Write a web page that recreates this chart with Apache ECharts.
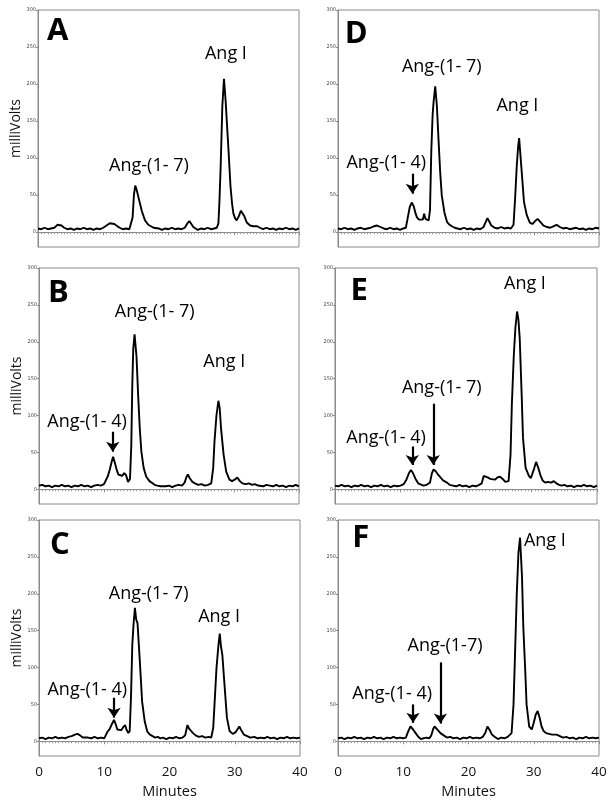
<!DOCTYPE html>
<html>
<head>
<meta charset="utf-8">
<script src="https://cdn.jsdelivr.net/npm/echarts@6/dist/echarts.min.js"></script>
<style>
html,body{margin:0;padding:0;background:#fff;}
#chart{width:612px;height:806px;}
</style>
</head>
<body>
<div id="chart"></div>
<script>
// ---------- data (minutes, milliVolts) ----------
const xTicks = [0, 10, 20, 30, 40];
const yTicks = [0, 50, 100, 150, 200, 250, 300];

const traceA = [[0,5],[0.5,4],[1,6],[1.5,4],[2,5],[2.5,6],[3,10],[3.3,12],[3.6,9],[4,6],[4.5,4],[5,5],[5.5,3],[6,5],[6.5,4],[7,6],[7.5,4],[8,5],[8.5,3],[9,5],[9.5,4],[10,6],[10.5,9],[11,12],[11.3,13],[11.7,11],[12,9],[12.5,6],[13,4],[13.5,5],[14,4],[14.3,6],[14.5,20],[14.7,50],[14.9,63],[15.1,58],[15.4,47],[15.7,36],[15.9,29],[16.2,21],[16.4,16],[16.9,10],[17.2,8],[17.7,6],[18,4],[18.5,5],[19,3],[19.5,5],[20,4],[20.5,6],[21,4],[21.5,5],[22,4],[22.5,6],[22.9,12],[23.2,15],[23.5,11],[23.8,7],[24,5],[24.5,3],[25,5],[25.5,4],[26,6],[26.5,4],[27,5],[27.4,6],[27.65,12],[27.8,40],[28,90],[28.25,170],[28.5,207],[28.75,178],[29,140],[29.2,110],[29.5,62],[29.75,38],[29.95,25],[30.2,19],[30.45,16],[30.8,22],[31.1,29],[31.3,31],[31.6,22],[32,13],[32.5,9],[33,8],[33.3,10],[33.6,8],[34,6],[34.5,4],[35,6],[35.5,4],[36,5],[36.5,3],[37,5],[37.5,4],[38,6],[38.5,4],[39,5],[39.5,3],[40,5]];

const traceB = [[0,5],[0.5,6],[1,4],[1.5,5],[2,3],[2.5,5],[3,4],[3.5,6],[4,4],[4.5,5],[5,3],[5.5,5],[6,4],[6.5,6],[7,4],[7.5,5],[8,3],[8.5,5],[9,6],[9.5,5],[10,7],[10.3,8],[10.6,18],[10.9,27],[11.2,38],[11.4,44],[11.6,38],[11.9,28],[12.2,20],[12.5,21],[12.8,18],[13.1,22],[13.4,19],[13.7,10],[14.0,14],[14.2,60],[14.35,140],[14.5,190],[14.7,210],[14.85,195],[15.0,180],[15.25,128],[15.5,83],[15.75,51],[16.1,29],[16.5,17],[17.0,11],[17.3,9],[17.8,6],[18.2,5],[18.7,4],[19,6],[19.5,4],[20,5],[20.5,3],[21,5],[21.5,6],[22,5],[22.4,9],[22.7,17],[22.9,20],[23.2,15],[23.6,10],[24,8],[24.5,6],[25,7],[25.5,5],[26,6],[26.5,8],[26.8,29],[27.0,65],[27.3,100],[27.6,120],[27.8,110],[28.0,83],[28.4,47],[28.8,24],[29.3,13],[29.7,11],[30.1,13],[30.5,16],[30.9,11],[31.3,8],[31.8,7],[32.3,8],[32.8,6],[33.2,7],[33.7,5],[34,6],[34.5,4],[35,6],[35.5,5],[36,4],[36.5,6],[37,4],[37.5,5],[38,3],[38.5,5],[39,4],[39.5,6],[40,4]];

const traceC = [[0,4],[0.5,5],[1,3],[1.5,5],[2,4],[2.5,6],[3,4],[3.5,5],[4,4],[4.5,6],[5,7],[5.5,9],[5.9,10],[6.3,8],[6.7,5],[7,3],[7.5,5],[8,4],[8.5,6],[9,4],[9.5,5],[10,4],[10.3,6],[10.5,13],[10.8,16],[11.1,22],[11.5,29],[11.8,22],[12.0,16],[12.3,17],[12.6,15],[12.9,19],[13.2,22],[13.4,16],[13.7,11],[13.9,14],[14.1,60],[14.3,131],[14.5,160],[14.7,181],[14.9,165],[15.1,160],[15.3,131],[15.6,86],[15.8,54],[16.2,27],[16.6,13],[17.0,9],[17.4,7],[17.8,5],[18.2,6],[18.6,4],[19,5],[19.5,3],[20,5],[20.5,4],[21,6],[21.5,4],[22,5],[22.4,8],[22.75,22],[23.0,17],[23.3,14],[23.6,11],[24,8],[24.5,6],[25,7],[25.5,5],[26,6],[26.4,5],[26.7,18],[26.9,50],[27.2,99],[27.5,130],[27.7,146],[27.9,128],[28.1,117],[28.5,68],[28.8,32],[29.2,14],[29.7,10],[30.1,12],[30.4,16],[30.7,20],[31.0,15],[31.4,9],[31.9,7],[32.4,5],[33,6],[33.5,4],[34,5],[34.5,4],[35,6],[35.5,4],[36,5],[36.5,3],[37,5],[37.5,4],[38,6],[38.5,4],[39,5],[39.5,4],[40,5]];

const traceD = [[0,5],[0.5,4],[1,6],[1.5,4],[2,5],[2.5,3],[3,5],[3.5,6],[4,4],[4.5,5],[5,6],[5.5,8],[6,9],[6.5,7],[7,5],[7.5,4],[8,6],[8.5,4],[9,5],[9.5,3],[10,5],[10.4,6],[10.7,20],[11.0,34],[11.3,40],[11.6,35],[11.9,25],[12.1,20],[12.4,17],[12.7,19],[13.0,17],[13.2,25],[13.4,18],[13.7,17],[13.9,16],[14.1,30],[14.3,110],[14.5,158],[14.65,176],[14.9,197],[15.15,171],[15.4,126],[15.66,81],[15.9,50],[16.3,27],[16.7,14],[17.1,10],[17.45,8],[17.9,6],[18.3,5],[18.8,4],[19.3,6],[19.8,4],[20.3,5],[20.8,3],[21.3,5],[21.8,4],[22.3,7],[22.6,13],[22.9,19],[23.2,14],[23.5,9],[24,6],[24.5,5],[25,7],[25.5,5],[26,6],[26.5,5],[26.9,10],[27.14,45],[27.4,90],[27.6,115],[27.76,127],[27.95,105],[28.16,81],[28.5,41],[28.93,23],[29.4,13],[29.8,11],[30.2,15],[30.6,18],[31.0,14],[31.5,9],[32,7],[32.5,6],[33,8],[33.5,10],[34,7],[34.5,5],[35,6],[35.5,4],[36,5],[36.5,6],[37,4],[37.5,5],[38,3],[38.5,5],[39,4],[39.5,6],[40,5]];

const traceE = [[0,5],[0.5,4],[1,6],[1.5,4],[2,5],[2.5,3],[3,5],[3.5,4],[4,6],[4.5,4],[5,5],[5.5,3],[6,5],[6.5,4],[7,6],[7.5,4],[8,5],[8.5,3],[9,5],[9.5,4],[10,5],[10.5,7],[10.9,13],[11.3,22],[11.6,26],[11.9,22],[12.3,14],[12.7,8],[13.0,6],[13.5,5],[14,6],[14.5,9],[14.8,22],[15.05,27],[15.4,24],[15.8,19],[16.1,16],[16.5,12],[16.8,13],[17.1,9],[17.5,6],[18,5],[18.5,4],[19,6],[19.5,4],[20,5],[20.5,3],[21,5],[21.5,4],[22,6],[22.4,8],[22.7,18],[22.9,20],[23.3,16],[23.7,14],[24.0,12],[24.4,13],[24.8,16],[25.2,17],[25.6,14],[26.0,10],[26.3,8],[26.5,11],[26.8,47],[27.0,115],[27.3,182],[27.55,220],[27.8,241],[28.0,230],[28.2,205],[28.5,128],[28.7,70],[29.1,29],[29.6,18],[29.9,15],[30.1,16],[30.4,28],[30.7,37],[31.0,30],[31.4,18],[31.7,12],[32.1,9],[32.5,10],[33.0,9],[33.4,11],[33.8,8],[34.2,6],[34.6,5],[35,6],[35.5,4],[36,5],[36.5,3],[37,5],[37.5,4],[38,6],[38.5,4],[39,5],[39.5,3],[40,5]];

const traceF = [[0,4],[0.5,5],[1,3],[1.5,5],[2,4],[2.5,6],[3,4],[3.5,5],[4,3],[4.5,5],[5,4],[5.5,6],[6,4],[6.5,5],[7,3],[7.5,5],[8,4],[8.5,6],[9,4],[9.5,5],[10,4],[10.4,5],[10.7,12],[11.1,20],[11.5,16],[11.9,11],[12.3,6],[12.7,3],[13,4],[13.5,5],[14,4],[14.3,8],[14.6,17],[14.8,20],[15.1,17],[15.4,14],[15.7,11],[16.2,8],[16.7,5],[17.2,6],[17.7,4],[18.2,5],[18.7,3],[19.2,5],[19.7,4],[20.2,6],[20.7,4],[21.2,5],[21.7,4],[22.2,6],[22.6,12],[22.9,20],[23.2,16],[23.6,9],[24,6],[24.5,3],[25,5],[25.5,4],[26,6],[26.3,5],[26.6,11],[26.9,50],[27.1,109],[27.4,200],[27.65,255],[27.9,276],[28.05,250],[28.2,223],[28.4,155],[28.7,95],[28.9,50],[29.3,20],[29.7,16],[30.0,25],[30.3,36],[30.6,41],[30.9,32],[31.2,20],[31.5,14],[31.9,11],[32.2,10],[32.8,9],[33.5,9],[34,7],[34.5,5],[35,6],[35.5,4],[36,5],[36.5,3],[37,5],[37.5,4],[38,6],[38.5,4],[39,5],[39.5,4],[40,5]];

// annotation texts [text, minutes, milliVolts]
const notesA = [['A', 3.0, 271, 'letter'], ['Ang-(1- 7)', 17.0, 89], ['Ang I', 28.8, 241]];
const notesB = [['B', 3.0, 266, 'letter'], ['Ang-(1- 7)', 17.8, 240], ['Ang I', 28.5, 173], ['Ang-(1- 4)', 7.4, 91]];
const notesC = [['C', 3.2, 266, 'letter'], ['Ang-(1- 7)', 16.8, 200], ['Ang I', 27.6, 168], ['Ang-(1- 4)', 7.4, 70]];
const notesD = [['D', 2.8, 268, 'letter'], ['Ang-(1- 7)', 15.9, 223], ['Ang I', 27.5, 171], ['Ang-(1- 4)', 7.4, 94]];
const notesE = [['E', 3.7, 268, 'letter'], ['Ang I', 29.0, 278], ['Ang-(1- 7)', 16.3, 137], ['Ang-(1- 4)', 7.8, 70]];
const notesF = [['F', 3.5, 275, 'letter'], ['Ang I', 31.7, 272], ['Ang-(1-7)', 16.4, 130], ['Ang-(1- 4)', 8.3, 64]];

// arrows [minutes, from mV, to mV]
const arrowsA = [];
const arrowsB = [[11.35, 78, 51]];
const arrowsC = [[11.5, 59, 32]];
const arrowsD = [[11.4, 79, 52]];
const arrowsE = [[11.8, 58, 33], [15.0, 116, 33]];
const arrowsF = [[11.5, 50, 25], [15.7, 107, 24]];

// ---------- layout ----------
const FONT = '"Open Sans", "DejaVu Sans", sans-serif';
const panels = [
  {trace: traceA, notes: notesA, arrows: arrowsA, grid: {left: 38, top: 10, width: 261, height: 237}, yName: true,  xLabels: false},
  {trace: traceB, notes: notesB, arrows: arrowsB, grid: {left: 39, top: 268, width: 260, height: 236}, yName: true,  xLabels: false},
  {trace: traceC, notes: notesC, arrows: arrowsC, grid: {left: 39, top: 520, width: 261, height: 236}, yName: true,  xLabels: true},
  {trace: traceD, notes: notesD, arrows: arrowsD, grid: {left: 338, top: 10, width: 261, height: 237}, yName: false, xLabels: false},
  {trace: traceE, notes: notesE, arrows: arrowsE, grid: {left: 335, top: 268, width: 262, height: 236}, yName: false, xLabels: false},
  {trace: traceF, notes: notesF, arrows: arrowsF, grid: {left: 338, top: 520, width: 261, height: 236}, yName: false, xLabels: true}
];

const grids = [], xAxes = [], yAxes = [], series = [];
panels.forEach((p, i) => {
  grids.push(Object.assign({show: true, borderColor: '#8a8a8a', borderWidth: 1, backgroundColor: '#fff'}, p.grid));
  xAxes.push({
    type: 'value', gridIndex: i, min: 0, max: 40, interval: 10,
    axisLine: {show: true, lineStyle: {color: '#8a8a8a', width: 1}},
    axisTick: {show: true, length: 3, lineStyle: {color: '#8a8a8a'}},
    minorTick: {show: true, splitNumber: 20, length: 2, lineStyle: {color: '#9a9a9a'}},
    splitLine: {show: false},
    axisLabel: {show: p.xLabels, fontSize: 13.5, color: '#111', fontFamily: FONT, margin: 9},
    name: p.xLabels ? 'Minutes' : '', nameLocation: 'middle', nameGap: 28,
    nameTextStyle: {fontSize: 14.5, color: '#111', fontFamily: FONT}
  });
  yAxes.push({
    type: 'value', gridIndex: i, min: -20, max: 300,
    axisLine: {show: true, lineStyle: {color: '#8a8a8a', width: 1}},
    axisTick: {show: true, length: 2, customValues: yTicks, lineStyle: {color: '#8a8a8a'}},
    splitLine: {show: false},
    axisLabel: {show: true, customValues: yTicks, fontSize: 5, color: '#444', margin: 2, fontFamily: 'DejaVu Sans'},
    name: p.yName ? 'milliVolts' : '', nameLocation: 'middle', nameGap: 15,
    nameTextStyle: {fontSize: 14, color: '#111', fontFamily: FONT}
  });
  series.push({
    type: 'line', xAxisIndex: i, yAxisIndex: i, data: p.trace,
    showSymbol: false, symbol: 'none', smooth: false,
    lineStyle: {color: '#000', width: 1.9},
    silent: true,
    markPoint: {
      symbol: 'circle', symbolSize: 1, silent: true,
      itemStyle: {color: 'rgba(0,0,0,0)'},
      label: {show: true, position: 'inside', formatter: '{b}', color: '#000', fontSize: 18, fontFamily: FONT},
      data: p.notes.map(n => ({
        name: n[0], coord: [n[1], n[2]],
        label: n[3] === 'letter' ? {fontSize: 31, fontWeight: 'bold', color: '#000'} : {}
      }))
    },
    markLine: {
      silent: true, symbol: ['none', 'arrow'], symbolSize: [10, 10],
      label: {show: false},
      lineStyle: {color: '#000', width: 2.2, type: 'solid'},
      data: p.arrows.map(a => [{coord: [a[0], a[1]]}, {coord: [a[0], a[2]]}])
    }
  });
});

const chart = echarts.init(document.getElementById('chart'), null, {renderer: 'canvas'});
chart.setOption({
  animation: false,
  backgroundColor: '#fff',
  grid: grids, xAxis: xAxes, yAxis: yAxes, series: series
});
</script>
</body>
</html>
